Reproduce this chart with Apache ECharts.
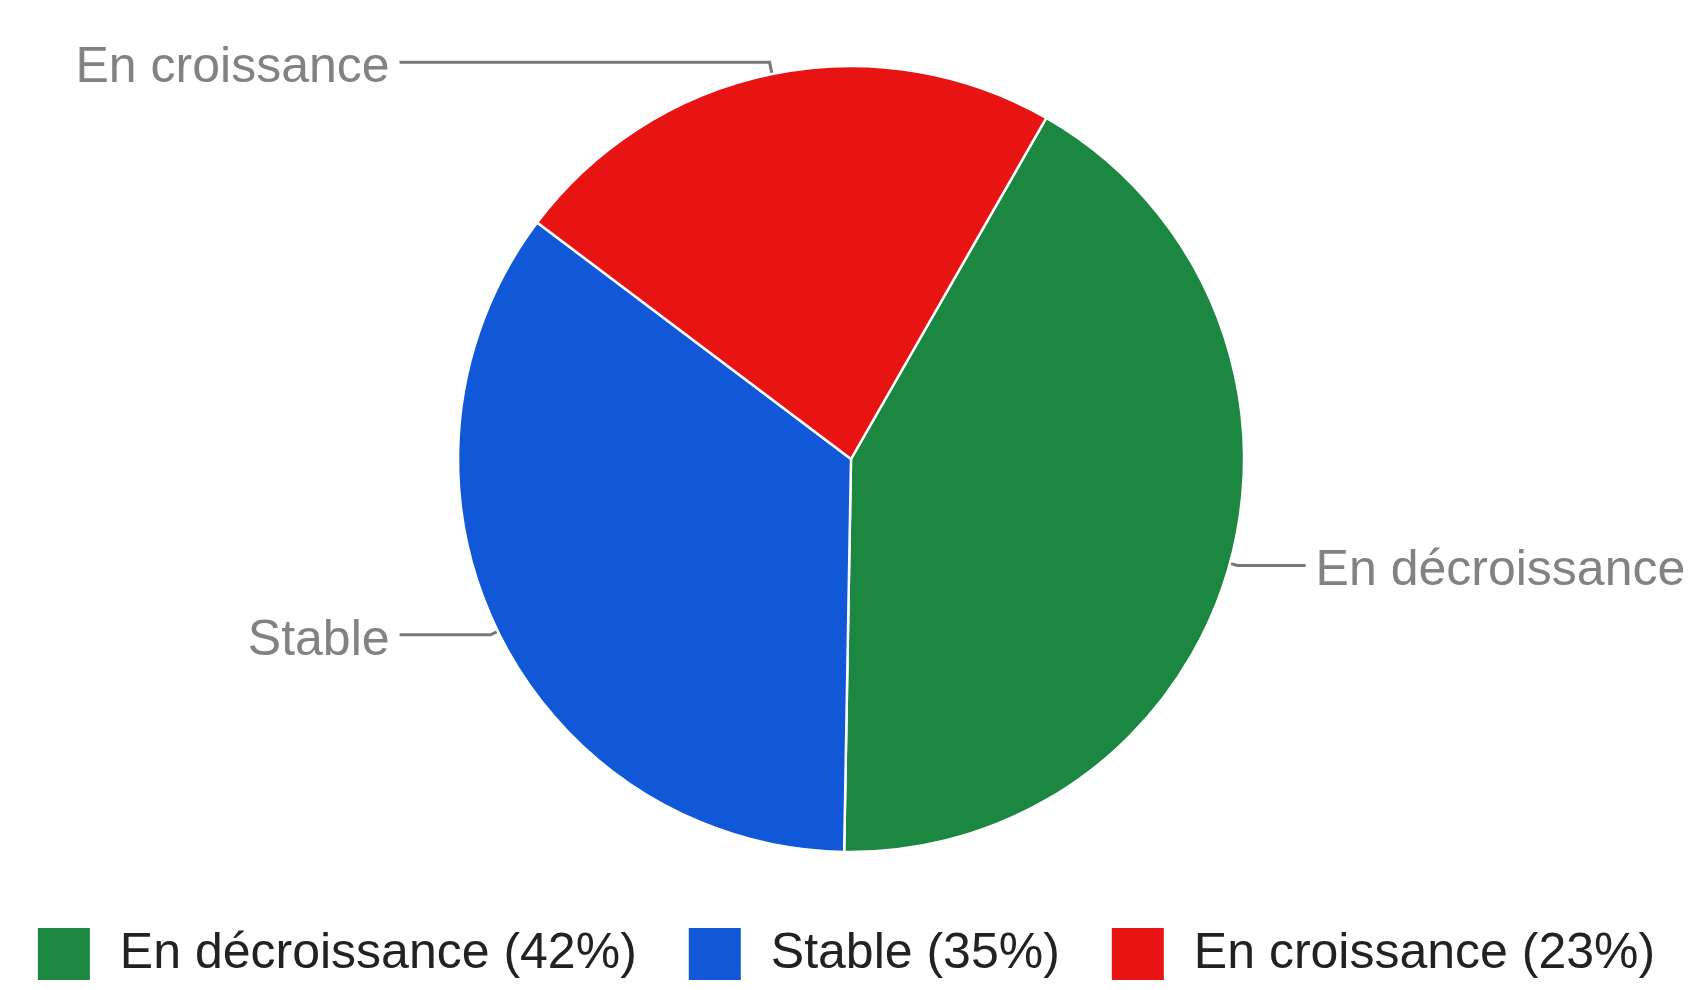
<!DOCTYPE html>
<html>
<head>
<meta charset="utf-8">
<script src="https://cdn.jsdelivr.net/npm/echarts@6/dist/echarts.min.js"></script>
<style>
html,body{margin:0;padding:0;background:#fff;}
#chart{width:1691px;height:990px;}
</style>
</head>
<body>
<div id="chart"></div>
<script>
var categories = ['En décroissance', 'Stable', 'En croissance'];
var values = [42, 35, 23];
var colors = ['#1b8741', '#1158d8', '#e81414'];

// per-slice label line lengths (style only)
var lineLen = [8, 8, 12];
var lineLen2 = [68, 91, 370];

var total = values.reduce(function (a, b) { return a + b; }, 0);
var pct = {};
categories.forEach(function (c, i) { pct[c] = Math.round(values[i] / total * 100); });

var data = categories.map(function (c, i) {
  return {
    name: c,
    value: values[i],
    itemStyle: { color: colors[i] },
    labelLine: { length: lineLen[i], length2: lineLen2[i] }
  };
});

var chart = echarts.init(document.getElementById('chart'), null, { renderer: 'canvas' });
chart.setOption({
  animation: false,
  textStyle: { fontFamily: 'Liberation Sans, Arial, sans-serif' },
  legend: {
    data: categories,
    left: 'center',
    top: 926,
    padding: 0,
    icon: 'rect',
    itemWidth: 54,
    itemHeight: 54,
    itemGap: 50,
    textStyle: {
      fontSize: 50,
      color: '#222222',
      fontFamily: 'Liberation Sans, Arial, sans-serif',
      padding: [0, 0, 0, 24]
    },
    formatter: function (name) { return name + ' (' + pct[name] + '%)'; }
  },
  series: [{
    type: 'pie',
    center: [851, 459],
    radius: 393,
    startAngle: 60.2,
    clockwise: true,
    avoidLabelOverlap: false,
    data: data,
    itemStyle: { borderColor: '#ffffff', borderWidth: 2.5 },
    label: {
      show: true,
      position: 'outside',
      formatter: '{t|{b}}',
      fontSize: 50,
      color: '#828282',
      fontFamily: 'Liberation Sans, Arial, sans-serif',
      overflow: 'none',
      bleedMargin: 0,
      distanceToLabelLine: 10,
      rich: {
        t: {
          fontSize: 50,
          color: '#828282',
          fontFamily: 'Liberation Sans, Arial, sans-serif',
          padding: [12, 0, 0, 0]
        }
      }
    },
    labelLine: {
      show: true,
      smooth: false,
      lineStyle: { color: '#777777', width: 3 }
    }
  }]
});
</script>
</body>
</html>
